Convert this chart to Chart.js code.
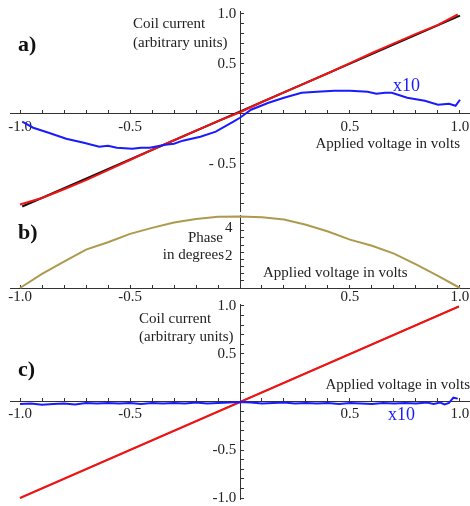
<!DOCTYPE html>
<html>
<head>
<meta charset="utf-8">
<script src="https://cdn.jsdelivr.net/npm/chart.js@4.4.1/dist/chart.umd.min.js"></script>
<style>
  body { margin: 0; background: #fff; }
  #wrap { position: relative; width: 470px; height: 506px; overflow: hidden; }
  canvas { position: absolute; left: 0; }
</style>
</head>
<body>
<div id="wrap">
  <canvas id="panelA" width="470" height="212" style="top:0px"></canvas>
  <canvas id="panelB" width="470" height="110" style="top:200px"></canvas>
  <canvas id="panelC" width="470" height="216" style="top:290px"></canvas>
</div>
<script>
// panel a) coil current vs applied voltage
var voltsFitA = [-0.99, 1.0];
var currentFitA = [-0.93, 0.983];
var voltsRedA = [-1.0, -0.9, -0.8, -0.7, -0.6, -0.5, -0.4, -0.3, -0.2, -0.1, 0, 0.1, 0.2, 0.3, 0.4, 0.5, 0.6, 0.7, 0.8, 0.9, 0.99];
var currentRedA = [-0.91, -0.845, -0.757, -0.666, -0.565, -0.464, -0.362, -0.266, -0.17, -0.074, 0.015, 0.118, 0.214, 0.31, 0.406, 0.508, 0.609, 0.705, 0.8, 0.89, 0.995];
var voltsBlueA = [-0.99, -0.94, -0.87, -0.79, -0.71, -0.64, -0.6, -0.56, -0.49, -0.45, -0.41, -0.34, -0.3, -0.26, -0.18, -0.11, -0.03, 0, 0.05, 0.13, 0.2, 0.28, 0.35, 0.43, 0.5, 0.58, 0.62, 0.66, 0.69, 0.76, 0.84, 0.9, 0.95, 0.98, 1.0];
var currentBlueA = [-0.08, -0.14, -0.19, -0.25, -0.29, -0.33, -0.32, -0.34, -0.35, -0.34, -0.34, -0.31, -0.3, -0.27, -0.23, -0.18, -0.08, -0.04, 0.04, 0.11, 0.16, 0.21, 0.22, 0.23, 0.23, 0.22, 0.2, 0.21, 0.21, 0.16, 0.13, 0.09, 0.1, 0.08, 0.14];

// panel b) phase vs applied voltage
var voltsPhase = [-1.0, -0.9, -0.8, -0.7, -0.6, -0.5, -0.4, -0.3, -0.2, -0.1, 0, 0.1, 0.2, 0.3, 0.4, 0.5, 0.6, 0.7, 0.8, 0.9, 1.0];
var phaseDeg = [0, 0.98, 1.85, 2.68, 3.2, 3.78, 4.2, 4.58, 4.82, 4.97, 5.0, 4.95, 4.78, 4.42, 3.95, 3.38, 2.95, 2.4, 1.65, 0.85, 0];

// panel c) coil current vs applied voltage
var voltsFitC = [-1.0, 0.995];
var currentFitC = [-1.0, 0.995];
var voltsBlueC = [-1.0, -0.95, -0.9, -0.85, -0.8, -0.75, -0.7, -0.65, -0.6, -0.55, -0.5, -0.45, -0.4, -0.35, -0.3, -0.25, -0.2, -0.15, -0.1, -0.05, 0, 0.05, 0.1, 0.15, 0.2, 0.25, 0.3, 0.35, 0.4, 0.45, 0.5, 0.55, 0.6, 0.65, 0.7, 0.75, 0.8, 0.85, 0.88, 0.91, 0.93, 0.95, 0.97, 0.99];
var currentBlueC = [-0.02, -0.015, -0.03, -0.02, -0.015, -0.025, -0.01, -0.015, -0.01, -0.015, -0.01, -0.02, -0.01, -0.015, -0.01, -0.015, -0.005, -0.015, -0.01, -0.005, 0, -0.005, -0.015, -0.01, -0.005, -0.015, -0.01, -0.015, -0.01, -0.02, -0.01, -0.015, -0.02, -0.01, -0.015, -0.01, -0.015, -0.005, -0.02, -0.005, -0.025, -0.01, 0.045, 0.035];

// tick labels
var xTickValues = [-1, -0.5, 0.5, 1];
var xTickLabels = ['-1.0', '-0.5', '0.5', '1.0'];
var yTickValuesA = [-0.5, 0.5, 1];
var yTickLabelsA = ['- 0.5 ', '0.5 ', '1.0 '];
var yTickValuesB = [2, 4];
var yTickLabelsB = ['2  ', '4  '];
var yTickValuesC = [-1, -0.5, 0.5, 1];
var yTickLabelsC = ['-1.0 ', '-0.5 ', '0.5 ', '1.0 '];

var serif = '"Liberation Serif", "Times New Roman", serif';
var textColor = '#222';
var axisColor = '#333';
var blue = '#1a1aff';
var red = '#f01414';

function pts(xs, ys) {
  var out = [];
  for (var i in xs) out.push({ x: xs[i], y: ys[i] });
  return out;
}

function pickLabel(values, labels) {
  return function(v) {
    for (var i in values) {
      if (Math.abs(values[i] - v) < 1e-6) return labels[i];
    }
    return '';
  };
}

// keep only ticks that sit on the step grid
function onStep(step) {
  return function(s) {
    s.ticks = s.ticks.filter(function(t) {
      var k = t.value / step;
      return Math.abs(k - Math.round(k)) < 1e-6;
    });
  };
}

// axes cross inside the plot, so they take no layout space
function noSpace(s) {
  if (s.isHorizontal()) s.height = 0; else s.width = 0;
  s.paddingLeft = s.paddingRight = s.paddingTop = s.paddingBottom = 0;
}

function xAxis(pad) {
  return {
    type: 'linear', min: -1.0455, max: 1.0455,
    position: { y: 0 },
    afterBuildTicks: onStep(0.1),
    afterFit: noSpace,
    grid: { drawOnChartArea: false, drawTicks: true, tickLength: -4, color: axisColor },
    border: { color: axisColor, width: 1 },
    ticks: { stepSize: 0.1, includeBounds: false, autoSkip: false, maxRotation: 0, padding: pad, color: textColor,
      font: { family: serif, size: 15 }, callback: pickLabel(xTickValues, xTickLabels) }
  };
}

function yAxis(min, max, step, values, labels, offset) {
  return {
    type: 'linear', min: min, max: max,
    position: { x: 0 },
    afterBuildTicks: onStep(step),
    afterFit: noSpace,
    grid: { drawOnChartArea: false, drawTicks: true, tickLength: -4, color: axisColor },
    border: { color: axisColor, width: 1 },
    ticks: { stepSize: step, includeBounds: false, autoSkip: false, padding: 0, labelOffset: offset, color: textColor,
      font: { family: serif, size: 15 }, callback: pickLabel(values, labels) }
  };
}

function textPlugin(top, items) {
  return {
    id: 'panelText',
    afterDraw: function(chart) {
      var ctx = chart.ctx;
      ctx.save();
      items.forEach(function(t) {
        ctx.font = t.font || ('15px ' + serif);
        ctx.fillStyle = t.color || textColor;
        ctx.textAlign = t.align || 'left';
        ctx.textBaseline = 'middle';
        ctx.fillText(t.text, t.x, t.y - top);
      });
      ctx.restore();
    }
  };
}

function line(data, color, width) {
  return { data: data, borderColor: color, borderWidth: width || 2, pointRadius: 0, tension: 0, fill: false, clip: false };
}

function baseOptions(pad) {
  return {
    responsive: false,
    animation: false,
    layout: { padding: pad },
    plugins: { legend: { display: false }, tooltip: { enabled: false } }
  };
}

// panel a (first dataset is drawn on top)
var optsA = baseOptions({ top: 11, bottom: 1, left: 10, right: 0 });
optsA.scales = { x: xAxis(8), y: yAxis(-0.975, 1.03, 0.1, yTickValuesA, yTickLabelsA, 0) };
new Chart(document.getElementById('panelA'), {
  type: 'line',
  data: { datasets: [
    line(pts(voltsBlueA, currentBlueA), blue),
    line(pts(voltsRedA, currentRedA), red),
    line(pts(voltsFitA, currentFitA), '#111')
  ] },
  options: optsA,
  plugins: [textPlugin(0, [
    { text: 'a)', x: 18, y: 45, font: 'bold 22px ' + serif, color: '#111' },
    { text: 'Coil current', x: 133, y: 24 },
    { text: '(arbitrary units)', x: 133, y: 43 },
    { text: 'Applied voltage in volts', x: 460, y: 144, align: 'right' },
    { text: 'x10', x: 393, y: 86, font: '18px ' + serif, color: blue }
  ])]
});

// panel b
var optsB = baseOptions({ top: 15, bottom: 22, left: 10, right: 0 });
optsB.scales = { x: xAxis(4), y: yAxis(0, 5.1, 0.5, yTickValuesB, yTickLabelsB, -3) };
new Chart(document.getElementById('panelB'), {
  type: 'line',
  data: { datasets: [ line(pts(voltsPhase, phaseDeg), '#ad9a4e') ] },
  options: optsB,
  plugins: [textPlugin(200, [
    { text: 'b)', x: 18, y: 233, font: 'bold 22px ' + serif, color: '#111' },
    { text: 'Phase', x: 223, y: 238, align: 'right' },
    { text: 'in degrees', x: 224, y: 255, align: 'right' },
    { text: 'Applied voltage in volts', x: 263, y: 273 }
  ])]
});

// panel c
var optsC = baseOptions({ top: 14, bottom: 7, left: 10, right: 0 });
optsC.scales = { x: xAxis(7), y: yAxis(-1.01, 1.02, 0.1, yTickValuesC, yTickLabelsC, 0) };
new Chart(document.getElementById('panelC'), {
  type: 'line',
  data: { datasets: [
    line(pts(voltsBlueC, currentBlueC), blue),
    line(pts(voltsFitC, currentFitC), red, 2.2),
    line(pts(voltsFitC, currentFitC), '#111', 1.2)
  ] },
  options: optsC,
  plugins: [textPlugin(290, [
    { text: 'c)', x: 18, y: 370, font: 'bold 22px ' + serif, color: '#111' },
    { text: 'Coil current', x: 139, y: 319 },
    { text: '(arbitrary units)', x: 139, y: 337 },
    { text: 'Applied voltage in volts', x: 470, y: 385, align: 'right' },
    { text: 'x10', x: 388, y: 415, font: '18px ' + serif, color: blue }
  ])]
});
</script>
</body>
</html>
